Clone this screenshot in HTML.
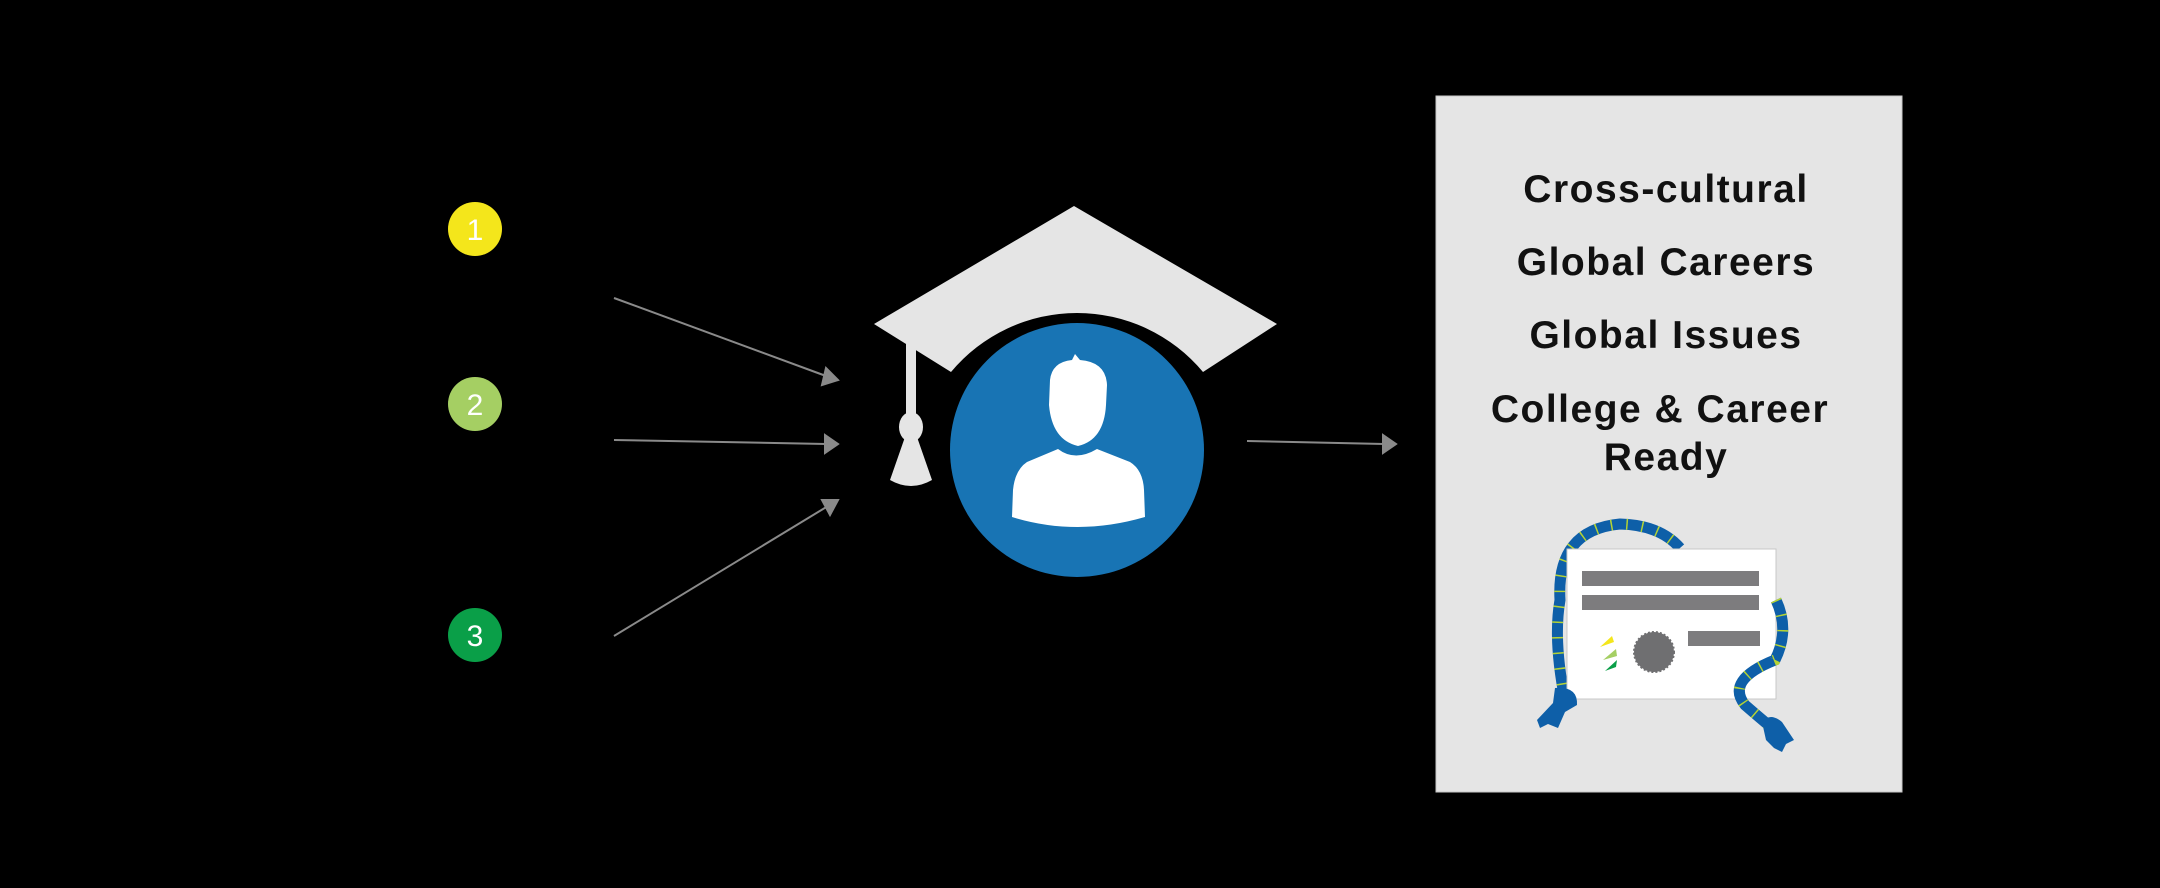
<!DOCTYPE html>
<html><head><meta charset="utf-8"><style>
html,body{margin:0;padding:0;background:#000;width:2160px;height:888px;overflow:hidden}
svg{display:block}
</style></head><body>
<svg width="2160" height="888" viewBox="0 0 2160 888" xmlns="http://www.w3.org/2000/svg">
<!-- number circles -->
<ellipse cx="475" cy="229" rx="27" ry="27" fill="#f4e61b"/>
<text x="475" y="240" font-family="Liberation Sans, sans-serif" font-size="30" fill="#fff" text-anchor="middle">1</text>
<ellipse cx="475" cy="404" rx="27" ry="27" fill="#a5cf63"/>
<text x="475" y="415" font-family="Liberation Sans, sans-serif" font-size="30" fill="#fff" text-anchor="middle">2</text>
<ellipse cx="475" cy="635" rx="27" ry="27" fill="#0a9f48"/>
<text x="475" y="646" font-family="Liberation Sans, sans-serif" font-size="30" fill="#fff" text-anchor="middle">3</text>
<!-- arrows -->
<g stroke="#8a8a8a" stroke-width="2" fill="#8a8a8a">
<line x1="614" y1="298" x2="826" y2="376"/>
<polygon points="838,380 822,385 826,368"/>
<line x1="614" y1="440" x2="826" y2="444"/>
<polygon points="838,444 825,453 825,435"/>
<line x1="614" y1="636" x2="828" y2="506"/>
<polygon points="838,500 830,515 822,500"/>
<line x1="1247" y1="441" x2="1384" y2="444"/>
<polygon points="1396,444 1383,453 1383,435"/>
</g>
<!-- cap -->
<path d="M874,324 L1074,206 L1277,324 L1203,372 A164,164 0 0 0 951,372 Z" fill="#e5e5e5"/>
<rect x="906" y="343" width="10" height="72" fill="#e5e5e5"/>
<ellipse cx="911" cy="427" rx="12" ry="15" fill="#e5e5e5"/>
<path d="M905,437 L917,437 L932,480 Q911,492 890,480 Z" fill="#e5e5e5"/>
<!-- circle -->
<circle cx="1077" cy="450" r="127" fill="#1874b4"/>
<!-- person -->
<path d="M1050,380 Q1052,362 1072,360 L1075,354 L1080,360 Q1106,362 1107,385 L1106,405 Q1104,440 1078,446 Q1052,440 1049,405 Z" fill="#fff"/>
<path d="M1058,449 Q1075,462 1097,449 L1130,462 Q1143,470 1144,490 L1145,517 Q1077,537 1012,517 L1013,490 Q1015,470 1027,462 Z" fill="#fff"/>
<!-- box -->
<rect x="1436" y="96" width="466" height="696" fill="#e5e5e5" stroke="#c8c8c8" stroke-width="1"/>
<g font-family="Liberation Sans, sans-serif" font-weight="bold" font-size="39" fill="#111" text-anchor="middle" letter-spacing="1.5">
<text x="1666" y="202">Cross-cultural</text>
<text x="1666" y="275">Global Careers</text>
<text x="1666" y="348">Global Issues</text>
<text x="1660" y="422">College &amp; Career</text>
<text x="1666" y="470">Ready</text>
</g>
<!-- rope left -->
<path d="M1565,700 Q1553,640 1560,600 Q1556,530 1620,524 Q1660,525 1680,548" fill="none" stroke="#0e5fa8" stroke-width="11"/>
<path d="M1565,700 Q1553,640 1560,600 Q1556,530 1620,524 Q1660,525 1680,548" fill="none" stroke="#b5d334" stroke-width="11" stroke-dasharray="1.5 14"/>
<!-- certificate -->
<rect x="1567" y="549" width="209" height="150" fill="#fff" stroke="#c8c8c8" stroke-width="1"/>
<rect x="1582" y="571" width="177" height="15" fill="#7d7c7e"/>
<rect x="1582" y="595" width="177" height="15" fill="#7d7c7e"/>
<rect x="1688" y="631" width="72" height="15" fill="#7d7c7e"/>
<circle cx="1654" cy="652" r="20" fill="#6f6f71" stroke="#6f6f71" stroke-width="2" stroke-dasharray="2 2"/>
<path d="M1600,647 L1612,636 L1614,642 Z" fill="#f4e61b"/>
<path d="M1603,660 L1616,649 L1617,656 Z" fill="#a5cf63"/>
<path d="M1605,671 L1617,660 L1616,667 Z" fill="#0a9f48"/>
<!-- rope right -->
<path d="M1776,600 Q1790,630 1775,660 Q1725,680 1745,705 Q1760,718 1772,728" fill="none" stroke="#0e5fa8" stroke-width="11"/>
<path d="M1776,600 Q1790,630 1775,660 Q1725,680 1745,705 Q1760,718 1772,728" fill="none" stroke="#b5d334" stroke-width="11" stroke-dasharray="1.5 14"/>
<!-- tassels -->
<path d="M1555,688 Q1578,686 1577,705 L1565,712 L1558,728 L1548,724 L1540,728 L1537,720 L1553,703 Z" fill="#0e5fa8"/>
<path d="M1762,722 Q1770,712 1782,722 L1794,740 L1786,744 L1782,752 L1774,748 L1766,740 Z" fill="#0e5fa8"/>
</svg>
</body></html>
